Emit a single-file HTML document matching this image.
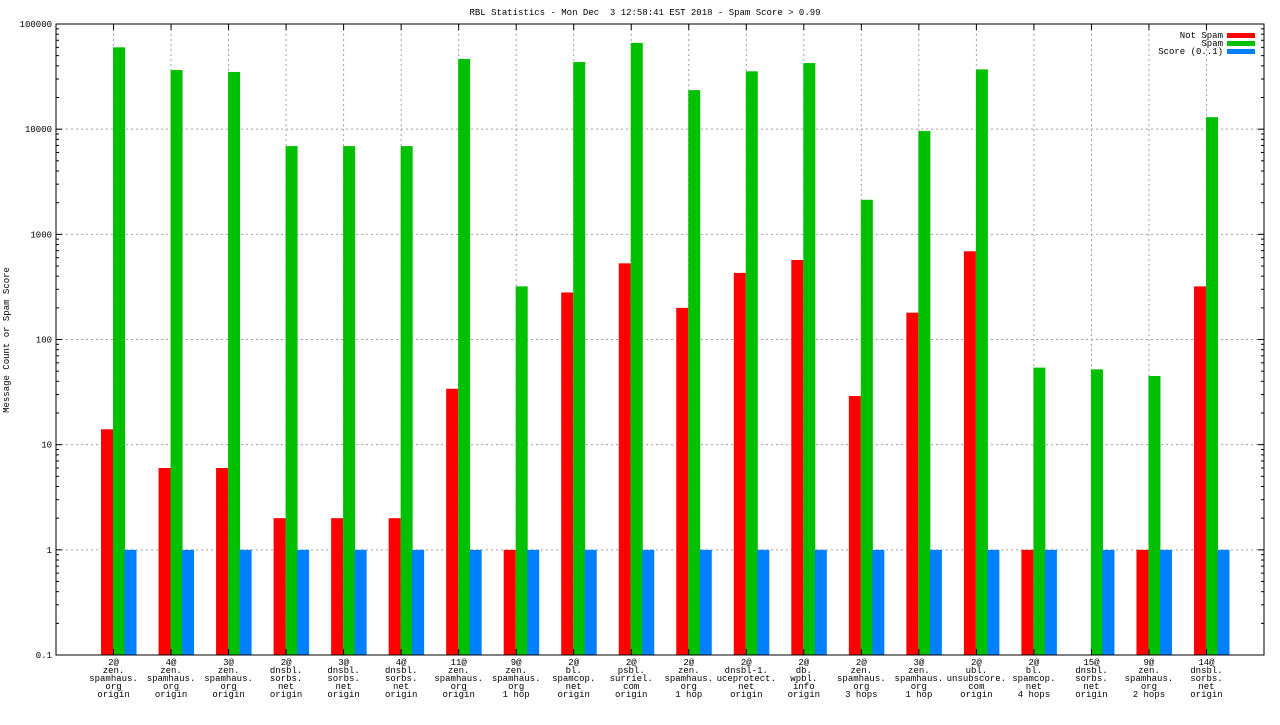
<!DOCTYPE html>
<html><head><meta charset="utf-8"><style>
html,body{margin:0;padding:0;background:#fff;}
svg text{font-family:"Liberation Mono","DejaVu Sans Mono",monospace;font-size:9px;fill:#000;}
</style></head><body>
<svg id="chart" width="1280" height="720" xmlns="http://www.w3.org/2000/svg">
<text x="645" y="15" text-anchor="middle" xml:space="preserve">RBL Statistics - Mon Dec  3 12:58:41 EST 2018 - Spam Score &gt; 0.99</text>
<text transform="translate(9,340) rotate(-90)" text-anchor="middle">Message Count or Spam Score</text>
<g id="grid"></g><g id="bars"></g><g id="axes"></g>
<g>
<text x="1223" y="38" text-anchor="end">Not Spam</text>
<rect x="1227" y="33" width="28" height="5" fill="#ff0000"/>
<text x="1223" y="46" text-anchor="end">Spam</text>
<rect x="1227" y="41" width="28" height="5" fill="#00c000"/>
<text x="1223" y="54" text-anchor="end">Score (0..1)</text>
<rect x="1227" y="49" width="28" height="5" fill="#0080ff"/>
</g>
</svg>
<script>
const categories = [
 ["2@","zen.","spamhaus.","org","origin"],["4@","zen.","spamhaus.","org","origin"],["3@","zen.","spamhaus.","org","origin"],
 ["2@","dnsbl.","sorbs.","net","origin"],["3@","dnsbl.","sorbs.","net","origin"],["4@","dnsbl.","sorbs.","net","origin"],
 ["11@","zen.","spamhaus.","org","origin"],["9@","zen.","spamhaus.","org","1 hop"],["2@","bl.","spamcop.","net","origin"],
 ["2@","psbl.","surriel.","com","origin"],["2@","zen.","spamhaus.","org","1 hop"],["2@","dnsbl-1.","uceprotect.","net","origin"],
 ["2@","db.","wpbl.","info","origin"],["2@","zen.","spamhaus.","org","3 hops"],["3@","zen.","spamhaus.","org","1 hop"],
 ["2@","ubl.","unsubscore.","com","origin"],["2@","bl.","spamcop.","net","4 hops"],["15@","dnsbl.","sorbs.","net","origin"],
 ["9@","zen.","spamhaus.","org","2 hops"],["14@","dnsbl.","sorbs.","net","origin"]
];
const notSpam = [14,6,6,2,2,2,34,1,280,530,200,430,570,29,180,690,1,0,1,320];
const spam = [60000,36500,35000,6900,6900,6900,46500,320,43500,66000,23500,35500,42500,2130,9600,37000,54,52,45,13000];
const score = [1,1,1,1,1,1,1,1,1,1,1,1,1,1,1,1,1,1,1,1];
const yTicks = [0.1,1,10,100,1000,10000,100000];
const yTickLabels = ["0.1","1","10","100","1000","10000","100000"];

const L=56,R=1264,T=24,B=655,NS="http://www.w3.org/2000/svg";
const step=(R-L)/(categories.length+1);
const xPos=i=>L+step*(i+1);
const yPos=v=>B-(Math.log10(v)+1)*(B-T)/6;
function mk(tag,attrs,parent){const e=document.createElementNS(NS,tag);for(const k in attrs)e.setAttribute(k,attrs[k]);document.getElementById(parent).appendChild(e);return e;}
yTicks.forEach((v,i)=>{
 const y=yPos(v);
 if(i>0&&i<yTicks.length-1){const g=mk('line',{x1:L,x2:R,y1:y,y2:y,stroke:'#a0a0a0','stroke-dasharray':'2,3'},'grid');
 
 }
 const t=mk('text',{x:L-4,y:y+3,'text-anchor':'end'},'axes');t.textContent=yTickLabels[i];
 
 
 mk('line',{x1:L,x2:L+6,y1:y,y2:y,stroke:'#000'},'axes');
 mk('line',{x1:R,x2:R-6,y1:y,y2:y,stroke:'#000'},'axes');
 if(i<yTicks.length-1){for(let m=2;m<10;m++){const ym=yPos(v*m);
  mk('line',{x1:L,x2:L+3,y1:ym,y2:ym,stroke:'#000'},'axes');mk('line',{x1:R,x2:R-3,y1:ym,y2:ym,stroke:'#000'},'axes');}}
});
categories.forEach((c,i)=>{
 const x=xPos(i);
 const g=mk('line',{x1:x,x2:x,y1:T,y2:B,stroke:'#a0a0a0','stroke-dasharray':'2,3'},'grid');
 
 
 mk('line',{x1:x,x2:x,y1:B,y2:B-6,stroke:'#000'},'axes');
 mk('line',{x1:x,x2:x,y1:T,y2:T+6,stroke:'#000'},'axes');
 const t=mk('text',{x:x,y:B+10,'text-anchor':'middle'},'axes');
 
 
 c.forEach((ln,j)=>{const s=document.createElementNS(NS,'tspan');s.setAttribute('x',x);s.setAttribute('dy',j?8:0);s.textContent=ln;t.appendChild(s);});
 const series=[[notSpam,'#ff0000',-12.5,'bar-not-spam'],[spam,'#00c000',-0.5,'bar-spam'],[score,'#0080ff',11,'bar-score']];
 series.forEach(([arr,col,off,name])=>{
  const v=arr[i]; if(!(v>0.1))return;
  const y=yPos(v);
  const r=mk('rect',{x:x+off,y:y,width:12,height:B-y,fill:col},'bars');
  
  
 });
});
const f=mk('rect',{x:L,y:T,width:R-L,height:B-T,fill:'none',stroke:'#000'},'axes');


</script>
</body></html>
